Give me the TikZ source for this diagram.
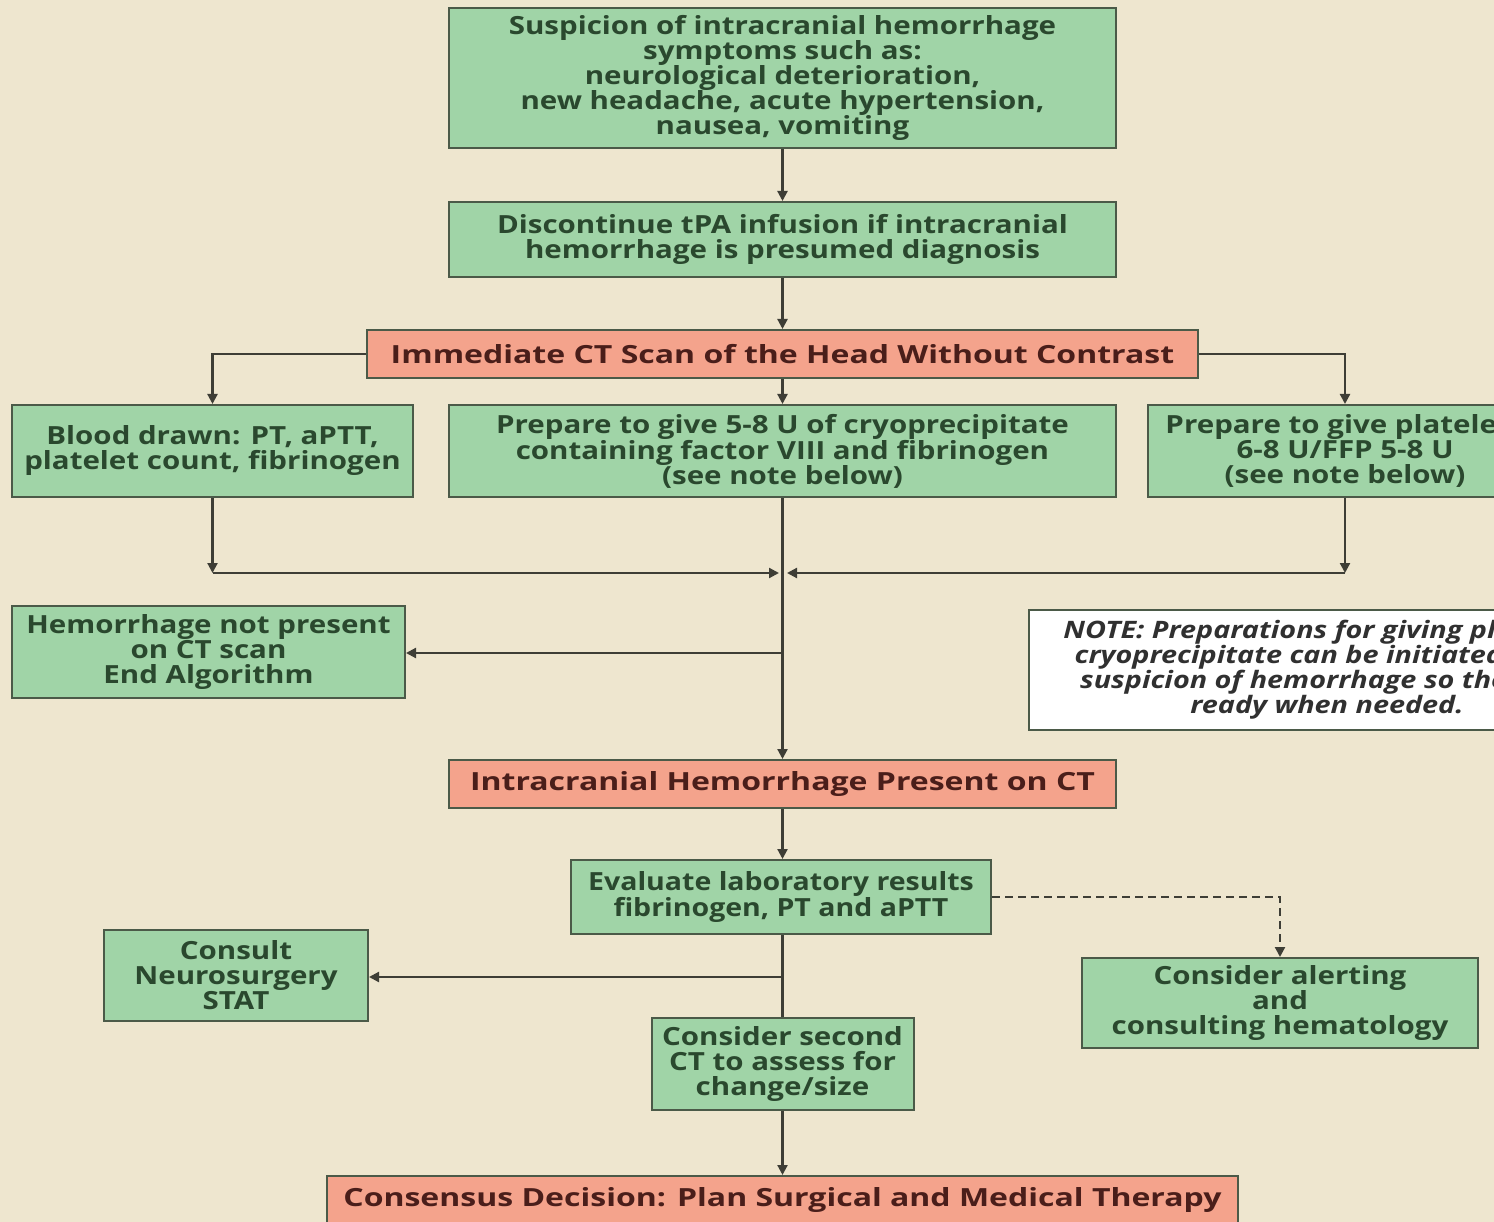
\documentclass[tikz,border=0pt]{standalone}
\usepackage{fontspec}
\setmainfont{Open Sans}
\newfontfamily\gfont{Open Sans}[FakeStretch=1.18]
\newfontfamily\efont{Open Sans}[FakeStretch=1.14]
\newfontfamily\sfont{Open Sans}[FakeStretch=1.28]
\newfontfamily\nfont{Open Sans}[FakeStretch=1.2]
\usetikzlibrary{arrows.meta}
\definecolor{bg}{HTML}{EEE6CF}
\definecolor{gfill}{HTML}{A0D4A7}
\definecolor{sfill}{HTML}{F4A38C}
\definecolor{bord}{HTML}{4B5A48}
\definecolor{gtext}{HTML}{2A482E}
\definecolor{stext}{HTML}{4A1E1A}
\definecolor{lcol}{HTML}{3E3E36}
\definecolor{ntext}{HTML}{303030}
\begin{document}
\begin{tikzpicture}[x=1pt,y=-1pt,
  gbox/.style={draw=bord, line width=2pt, fill=gfill, text=gtext,
    font=\gfont\fontsize{25}{25}\selectfont\bfseries, align=center, inner sep=0pt},
  sbox/.style={draw=bord, line width=2pt, fill=sfill, text=stext,
    font=\sfont\fontsize{25}{25}\selectfont\bfseries, align=center, inner sep=0pt},
  nbox/.style={draw=bord, line width=2pt, fill=white, text=ntext,
    font=\nfont\fontsize{24}{25}\selectfont\bfseries\itshape, align=center, inner sep=0pt},
  wire/.style={draw=lcol, line width=2.2pt},
  conn/.style={wire, -{Triangle[width=10pt,length=10pt]}},
  dconn/.style={conn, dash pattern=on 8pt off 5pt}
]
\useasboundingbox (0,0) rectangle (1494,1222);
\clip (0,0) rectangle (1494,1222);
\fill[bg] (0,0) rectangle (1494,1222);

\node[gbox, minimum width=667pt, minimum height=140pt] (top) at (782.5,78)
  {Suspicion of intracranial hemorrhage\\symptoms such as:\\neurological deterioration,\\new headache, acute hypertension,\\nausea, vomiting};
\node[gbox, minimum width=667pt, minimum height=75pt] (disc) at (782.5,239.5)
  {Discontinue tPA infusion if intracranial\\hemorrhage is presumed diagnosis};
\node[sbox, minimum width=831pt, minimum height=48pt] (ct) at (782.5,354)
  {Immediate CT Scan of the Head Without Contrast};
\node[gbox, minimum width=401pt, minimum height=92pt] (blood) at (212.5,451)
  {Blood drawn: PT, aPTT,\\platelet count, fibrinogen};
\node[gbox, minimum width=667pt, minimum height=92pt] (cryo) at (782.5,451)
  {Prepare to give 5-8 U of cryoprecipitate\\containing factor VIII and fibrinogen\\(see note below)};
\node[gbox, minimum width=394pt, minimum height=92pt] (plate) at (1345,451)
  {Prepare to give platelets\\6-8 U/FFP 5-8 U\\(see note below)};
\node[gbox, minimum width=393pt, minimum height=92pt] (hemno) at (208.5,652)
  {Hemorrhage not present\\on CT scan\\End Algorithm};
\node[nbox, minimum width=596pt, minimum height=120pt] (note) at (1327,670)
  {NOTE: Preparations for giving platelets\rlap{ and}\\cryoprecipitate can be initiated upon\\suspicion of hemorrhage so they are\\ready when needed.};
\node[sbox, minimum width=667pt, minimum height=48pt] (ich) at (782.5,784)
  {Intracranial Hemorrhage Present on CT};
\node[gbox, font=\efont\fontsize{25}{25}\selectfont\bfseries, minimum width=420pt, minimum height=74pt] (eval) at (781,897)
  {Evaluate laboratory results\\fibrinogen, PT and aPTT};
\node[gbox, minimum width=264pt, minimum height=91pt] (neuro) at (236,975.5)
  {Consult\\Neurosurgery\\STAT};
\node[gbox, minimum width=396pt, minimum height=90pt] (alert) at (1280,1003)
  {Consider alerting\\and\\consulting hematology};
\node[gbox, minimum width=262pt, minimum height=92pt] (ct2) at (782.5,1064)
  {Consider second\\CT to assess for\\change/size};
\node[sbox, minimum width=911pt, minimum height=48pt] (cons) at (782.5,1200)
  {Consensus Decision: Plan Surgical and Medical Therapy};

\coordinate (jl) at (212.5,573);
\coordinate (jr) at (1345,573);
\coordinate (jcl) at (779,573);
\coordinate (jcr) at (787,573);
\coordinate (bhn) at (782.5,653);
\coordinate (bnr) at (782.5,977);

\draw[conn] (top) -- (disc);
\draw[conn] (disc) -- (ct);
\draw[conn] (ct) -- (cryo);
\draw[conn] (ct.west) -| (blood.north);
\draw[conn] (ct.east) -| (plate.north);
\draw[conn] (blood.south) -- (jl);
\draw[conn] (plate.south) -- (jr);
\draw[conn] (jl) -- (jcl);
\draw[conn] (jr) -- (jcr);
\draw[conn] (cryo.south) -- (ich.north);
\draw[conn] (bhn) -- (bhn -| hemno.east);
\draw[conn] (ich) -- (ich |- eval.north);
\draw[wire] (eval.south -| ct2.north) -- (ct2.north);
\draw[conn] (bnr) -- (bnr -| neuro.east);
\draw[dconn] (eval.east) -| (alert.north);
\draw[conn] (ct2) -- (cons);
\end{tikzpicture}
\end{document}
